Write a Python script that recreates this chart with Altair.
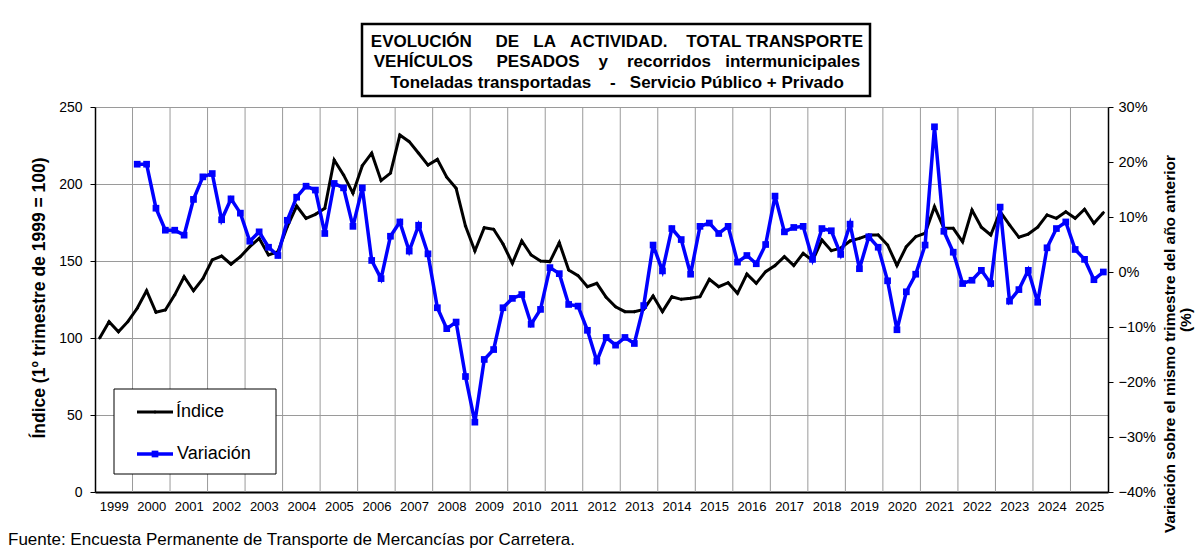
import altair as alt
import pandas as pd

# ---- data ----
years = list(range(1999, 2026))

# Índice, quarterly from 1999 Q1 (1º trimestre 1999 = 100)
indice = [
    100, 110.6, 104, 110.6,
    119.3, 130.7, 116.7, 118.2,
    128, 139.8, 130.7, 138.5,
    150.7, 153.2, 147.9, 152.8,
    159.3, 164.7, 153.9, 156,
    172.3, 185.7, 177.7, 180.3,
    184.2, 215.6, 205.9, 194,
    211.9, 220, 202.2, 207,
    231.8, 227.5, 220, 212.3,
    216, 204.4, 197.2, 172.7,
    156.5, 171.6, 170.6, 161,
    148.5, 163, 153.9, 150,
    149.6, 161.9, 144.2, 140.5,
    133.3, 135.5, 126.4, 120.3,
    117.1, 117.1, 118.6, 127.3,
    117.1, 126.8, 125.1, 125.8,
    126.8, 138.1, 133.3, 135.9,
    129, 141.5, 135.5, 143.1,
    147, 152.8, 147, 155,
    150.2, 163.6, 156.7, 158.3,
    163, 164.7, 166.9, 166.9,
    160.4, 147.1, 159.3, 165.8,
    168, 185.3, 171.2, 171.2,
    162.5, 183.1, 171.9, 166.9,
    182, 173.4, 165.4, 167.5,
    171.9, 179.9, 177.7, 182,
    177.7, 183.6, 174.5, 181.4,
]

# Variación (%) sobre el mismo trimestre del año anterior, from 2000 Q1
variacion = [
    19.6, 19.6, 11.6, 7.6,
    7.6, 6.7, 13.2, 17.3,
    17.9, 9.5, 13.3, 10.7,
    5.6, 7.3, 4.5, 3.0,
    9.4, 13.6, 15.6, 14.9,
    7.0, 16.1, 15.3, 8.3,
    15.3, 2.1, -1.2, 6.5,
    9.1, 3.8, 8.5, 3.3,
    -6.5, -10.3, -9.1, -19.0,
    -27.3, -15.9, -14.1, -6.5,
    -4.8, -4.1, -9.5, -6.8,
    0.8, -0.3, -5.9, -6.2,
    -10.6, -16.2, -11.9, -13.3,
    -11.9, -13.0, -6.1, 4.9,
    0.2, 7.9, 5.9, -0.4,
    8.3, 8.9, 7.0, 8.3,
    1.8, 3.0, 1.5, 5.0,
    13.8, 7.3, 8.1, 8.3,
    2.3, 7.9, 7.5, 3.2,
    8.7, 0.6, 6.4, 4.5,
    -1.6, -10.5, -3.6, -0.4,
    4.9, 26.4, 7.4, 3.6,
    -2.1, -1.5, 0.3, -2.1,
    11.8, -5.3, -3.2, 0.3,
    -5.5, 4.4, 7.9, 9.1,
    4.1, 2.3, -1.4, 0.0,
]

left_ticks = [0, 50, 100, 150, 200, 250]
right_ticks = [-0.4, -0.3, -0.2, -0.1, 0.0, 0.1, 0.2, 0.3]

NB = "\u00a0"
title_words = [
    ["EVOLUCIÓN", "DE", "LA", "ACTIVIDAD.", "TOTAL", "TRANSPORTE"],
    ["VEHÍCULOS", "PESADOS", "y", "recorridos", "intermunicipales"],
    ["Toneladas", "transportadas", "-", "Servicio", "Público", "+", "Privado"],
]
title_gaps = [
    [5, 3, 3, 4, 1],
    [5, 4, 4, 3],
    [1, 4, 3, 1, 1, 1],
]


def spaced(words, gaps):
    s = words[0]
    for w, g in zip(words[1:], gaps):
        s += NB * g + w
    return s


title_lines = [spaced(w, g) for w, g in zip(title_words, title_gaps)]

left_title = "Índice (1º trimestre de 1999 = 100)"
right_title = ["Variación sobre el mismo trimestre del año anterior", "(%)"]
footnote = "Fuente: Encuesta Permanente de Transporte de Mercancías por Carretera."
legend_labels = ["Índice", "Variación"]

# ---- tables ----
df_i = pd.DataFrame({
    "t": [1999 + i // 4 + (i % 4 + 0.5) / 4 for i in range(len(indice))],
    "indice": indice,
})
df_v = pd.DataFrame({
    "t": [2000 + i // 4 + (i % 4 + 0.5) / 4 for i in range(len(variacion))],
    "var": [v / 100 for v in variacion],
})
df_grid = pd.DataFrame({"t": years[1:]})
one = pd.DataFrame({"a": [0]})

FONT = "Liberation Sans"
GRID = "#9a9a9a"

x_enc = alt.X(
    "t:Q",
    scale=alt.Scale(domain=[1999, 2026], nice=False, zero=False),
    axis=alt.Axis(
        values=[y + 0.5 for y in years],
        labelExpr="'' + floor(datum.value)",
        ticks=False, grid=False, title=None,
        domainColor="black", domainWidth=2,
        labelFontSize=13, labelPadding=8, labelColor="black", labelFont=FONT,
    ),
)

grid_rules = alt.Chart(df_grid).mark_rule(color=GRID, strokeWidth=1).encode(x=x_enc)

line_i = alt.Chart(df_i).mark_line(
    color="black", strokeWidth=3,
    point=alt.OverlayMarkDef(shape="diamond", size=14, filled=True, color="black"),
).encode(
    x=x_enc,
    y=alt.Y(
        "indice:Q",
        scale=alt.Scale(domain=[0, 250], nice=False, zero=True),
        axis=alt.Axis(
            values=left_ticks, grid=True, gridColor=GRID, gridWidth=1, title=None,
            domainColor="black", domainWidth=1.5, tickColor="black", tickSize=5,
            labelFontSize=14, labelPadding=8, labelColor="black", labelFont=FONT,
        ),
    ),
)

line_v = alt.Chart(df_v).mark_line(
    color="#0000FF", strokeWidth=3.5,
    point=alt.OverlayMarkDef(shape="square", size=45, filled=True, color="#0000FF"),
).encode(
    x=x_enc,
    y=alt.Y(
        "var:Q",
        scale=alt.Scale(domain=[-0.4, 0.3], nice=False, zero=False),
        axis=alt.Axis(
            orient="right", values=right_ticks, format=".0%", grid=False, title=None,
            domainColor="black", domainWidth=1.5, tickColor="black", tickSize=5,
            labelFontSize=14.5, labelPadding=5, labelColor="black", labelFont=FONT,
        ),
    ),
)

# ---- legend (drawn by hand, Excel-style box) ----
leg_box = alt.Chart(one).mark_rect(fill="white", stroke="black", strokeWidth=1).encode(
    x=alt.value(19), x2=alt.value(181), y=alt.value(282), y2=alt.value(367)
)
leg_line_i = alt.Chart(one).mark_rule(color="black", strokeWidth=3).encode(
    x=alt.value(42), x2=alt.value(78), y=alt.value(305)
)
leg_pt_i = alt.Chart(one).mark_point(shape="diamond", size=14, filled=True, color="black", opacity=1).encode(
    x=alt.value(60), y=alt.value(305)
)
leg_line_v = alt.Chart(one).mark_rule(color="#0000FF", strokeWidth=3.5).encode(
    x=alt.value(42), x2=alt.value(78), y=alt.value(347)
)
leg_pt_v = alt.Chart(one).mark_point(shape="square", size=45, filled=True, color="#0000FF", opacity=1).encode(
    x=alt.value(60), y=alt.value(347)
)
leg_txt_i = alt.Chart(one).mark_text(align="left", baseline="middle", fontSize=18, font=FONT, color="black").encode(
    x=alt.value(81), y=alt.value(305), text=alt.value(legend_labels[0])
)
leg_txt_v = alt.Chart(one).mark_text(align="left", baseline="middle", fontSize=18, font=FONT, color="black").encode(
    x=alt.value(82), y=alt.value(347), text=alt.value(legend_labels[1])
)

# ---- title box ----
title_box = alt.Chart(one).mark_rect(fill="white", stroke="black", strokeWidth=2.5).encode(
    x=alt.value(267), x2=alt.value(775), y=alt.value(-83), y2=alt.value(-11)
)
title_texts = [
    alt.Chart(one).mark_text(align="center", baseline="middle", fontSize=17, fontWeight="bold",
                             font=FONT, color="black").encode(
        x=alt.value(522), y=alt.value(yy), text=alt.value(txt)
    )
    for txt, yy in zip(title_lines, [-65, -45, -24])
]

# ---- axis titles ----
left_t = alt.Chart(one).mark_text(angle=270, align="center", baseline="middle", fontSize=17.5,
                                  fontWeight="bold", font=FONT, color="black").encode(
    x=alt.value(-55), y=alt.value(191), text=alt.value(left_title)
)
right_t1 = alt.Chart(one).mark_text(angle=270, align="center", baseline="middle", fontSize=15.5,
                                    fontWeight="bold", font=FONT, color="black").encode(
    x=alt.value(1075), y=alt.value(237), text=alt.value(right_title[0])
)
right_t2 = alt.Chart(one).mark_text(angle=270, align="center", baseline="middle", fontSize=15.5,
                                    fontWeight="bold", font=FONT, color="black").encode(
    x=alt.value(1091), y=alt.value(213), text=alt.value(right_title[1])
)

foot = alt.Chart(one).mark_text(align="left", baseline="bottom", fontSize=17, font=FONT, color="black").encode(
    x=alt.value(-87), y=alt.value(442), text=alt.value(footnote)
)

lines = alt.layer(grid_rules, line_i, line_v).resolve_scale(y="independent")

chart = alt.layer(
    lines,
    leg_box, leg_line_i, leg_pt_i, leg_line_v, leg_pt_v, leg_txt_i, leg_txt_v,
    title_box, *title_texts,
    left_t, right_t1, right_t2, foot,
).properties(
    width=1013, height=385,
    autosize=alt.AutoSizeParams(type="none"),
    padding={"left": 87, "top": 99, "right": 87, "bottom": 56},
    background="white",
).configure_view(stroke=None)

chart.save("out.html", embed_options={"renderer": "svg", "actions": False})
